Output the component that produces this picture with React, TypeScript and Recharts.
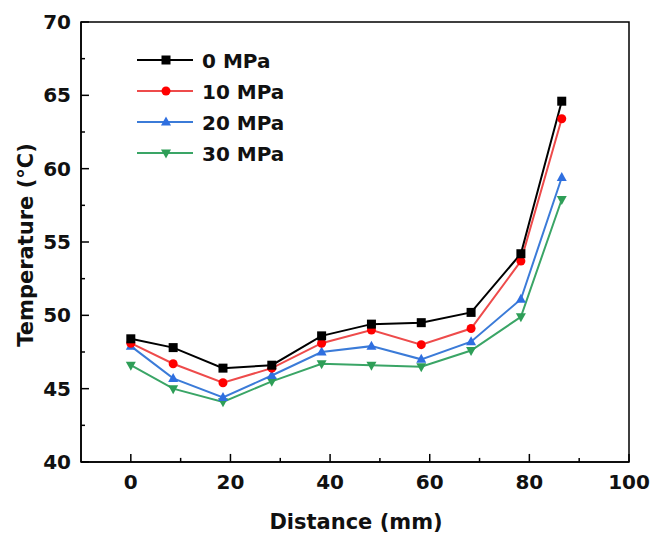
import React from "react"
import { LineChart, Line, XAxis, YAxis, Legend, ReferenceArea, ReferenceLine } from "recharts"

// distance along the sample (mm)
const distance = [0, 8.5, 18.5, 28.3, 38.3, 48.3, 58.3, 68.3, 78.3, 86.5]

// temperature (°C) for each pressure
const t0 = [48.4, 47.8, 46.4, 46.6, 48.6, 49.4, 49.5, 50.2, 54.2, 64.6]
const t10 = [48.1, 46.7, 45.4, 46.4, 48.1, 49.0, 48.0, 49.1, 53.7, 63.4]
const t20 = [47.9, 45.7, 44.4, 45.9, 47.5, 47.9, 47.0, 48.2, 51.1, 59.4]
const t30 = [46.6, 45.0, 44.1, 45.5, 46.7, 46.6, 46.5, 47.6, 49.9, 57.9]

const xLabels = [0, 20, 40, 60, 80, 100]
const xMinor = [10, 30, 50, 70, 90]
const yLabels = [40, 45, 50, 55, 60, 65, 70]
const yMinor = [42.5, 47.5, 52.5, 57.5, 62.5, 67.5]

const series = [
  { key: "p0", name: "0 MPa", line: "#000000", fill: "#000000", shape: "square", values: t0 },
  { key: "p10", name: "10 MPa", line: "#ee4b4b", fill: "#ff0000", shape: "circle", values: t10 },
  { key: "p20", name: "20 MPa", line: "#3b7bd8", fill: "#2f6fe0", shape: "up", values: t20 },
  { key: "p30", name: "30 MPa", line: "#3aa566", fill: "#2e9e57", shape: "down", values: t30 },
]

const data = distance.map((d, i) => {
  const row: any = { d }
  series.forEach((s) => (row[s.key] = s.values[i]))
  return row
})

const W = 651
const H = 540
const LEFT = 81
const RIGHT = 629
const TOP = 22
const BOTTOM = 462
const FONT = "'DejaVu Sans', Arial, sans-serif"

// tick lengths in data units (x: 110 units over 548px, y: 30 units over 440px)
const X_MIN = -10
const Y_MIN = 40
const yMajorLen = 0.55
const yMinorLen = 0.28
const xMajorLen = 1.6
const xMinorLen = 0.8

function marker(shape: string, cx: number, cy: number, color: string, k?: any) {
  const r = 4.5
  if (shape === "square")
    return <rect key={k} x={cx - r} y={cy - r} width={2 * r} height={2 * r} fill={color} />
  if (shape === "circle") return <circle key={k} cx={cx} cy={cy} r={r} fill={color} />
  if (shape === "up")
    return (
      <polygon key={k} points={`${cx},${cy - r - 1} ${cx - r - 0.5},${cy + r - 1} ${cx + r + 0.5},${cy + r - 1}`} fill={color} />
    )
  return (
    <polygon key={k} points={`${cx},${cy + r + 1} ${cx - r - 0.5},${cy - r + 1} ${cx + r + 0.5},${cy - r + 1}`} fill={color} />
  )
}

const renderXTick = (props: any) => (
  <text x={props.x} y={BOTTOM + 27} textAnchor="middle" fontFamily={FONT} fontWeight="bold" fontSize={20} fill="#111">
    {props.payload.value}
  </text>
)

const renderYTick = (props: any) => (
  <text x={LEFT - 10} y={props.y + 7} textAnchor="end" fontFamily={FONT} fontWeight="bold" fontSize={20} fill="#111">
    {props.payload.value}
  </text>
)

const renderLegend = () => (
  <svg width={180} height={130}>
    {series.map((s, i) => {
      const y = 12 + i * 31
      return (
        <g key={s.key}>
          <line x1={0} x2={56} y1={y} y2={y} stroke={s.line} strokeWidth={2} />
          {marker(s.shape, 29, y, s.fill)}
          <text x={65} y={y + 7.5} fontFamily={FONT} fontWeight="bold" fontSize={20} fill="#111">
            {s.name}
          </text>
        </g>
      )
    })}
  </svg>
)

const tickSeg = (key: string, seg: any) => (
  <ReferenceLine key={key} segment={seg} stroke="#000" strokeWidth={1.5} ifOverflow="visible" />
)

export default function App() {
  return (
    <div style={{ position: "absolute", left: 0, top: 0, width: W, height: H, background: "#fff" }}>
      <LineChart width={W} height={H} data={data} margin={{ top: TOP, right: W - RIGHT, bottom: 0, left: 0 }}>
        <XAxis
          dataKey="d"
          type="number"
          domain={[-10, 100]}
          ticks={xLabels}
          interval={0}
          height={H - BOTTOM}
          tick={renderXTick}
          tickLine={false}
          axisLine={{ stroke: "#000", strokeWidth: 1.5 }}
          label={{
            content: () => (
              <text x={356} y={529} textAnchor="middle" fontFamily={FONT} fontWeight="bold" fontSize={21} fill="#111">
                Distance (mm)
              </text>
            ),
          }}
        />
        <YAxis
          type="number"
          domain={[40, 70]}
          ticks={yLabels}
          interval={0}
          width={LEFT}
          tick={renderYTick}
          tickLine={false}
          axisLine={{ stroke: "#000", strokeWidth: 1.5 }}
          label={{
            content: () => (
              <text
                x={26}
                y={245}
                transform="rotate(-90 26 245)"
                textAnchor="middle"
                dominantBaseline="central"
                fontFamily={FONT}
                fontWeight="bold"
                fontSize={21}
                fill="#111"
              >
                Temperature (°C)
              </text>
            ),
          }}
        />
        <ReferenceArea
          x1={-10}
          x2={100}
          y1={40}
          y2={70}
          fill="none"
          fillOpacity={0}
          stroke="#000"
          strokeWidth={1.5}
          strokeOpacity={1}
          ifOverflow="visible"
        />
        {xLabels.map((v) => tickSeg(`xM${v}`, [{ x: v, y: Y_MIN }, { x: v, y: Y_MIN + yMajorLen }]))}
        {xMinor.map((v) => tickSeg(`xm${v}`, [{ x: v, y: Y_MIN }, { x: v, y: Y_MIN + yMinorLen }]))}
        {yLabels.map((v) => tickSeg(`yM${v}`, [{ x: X_MIN, y: v }, { x: X_MIN + xMajorLen, y: v }]))}
        {yMinor.map((v) => tickSeg(`ym${v}`, [{ x: X_MIN, y: v }, { x: X_MIN + xMinorLen, y: v }]))}
        <Legend
          layout="vertical"
          align="center"
          verticalAlign="middle"
          content={renderLegend}
          wrapperStyle={{ position: "absolute", left: 137, top: 48, width: 180, height: 130 }}
        />
        {series
          .slice()
          .reverse()
          .map((s) => (
            <Line
              key={s.key}
              dataKey={s.key}
              name={s.name}
              type="linear"
              stroke={s.line}
              strokeWidth={2}
              isAnimationActive={false}
              dot={(p: any) => marker(s.shape, p.cx, p.cy, s.fill, `${s.key}-${p.index}`)}
              activeDot={false}
            />
          ))}
      </LineChart>
    </div>
  )
}
